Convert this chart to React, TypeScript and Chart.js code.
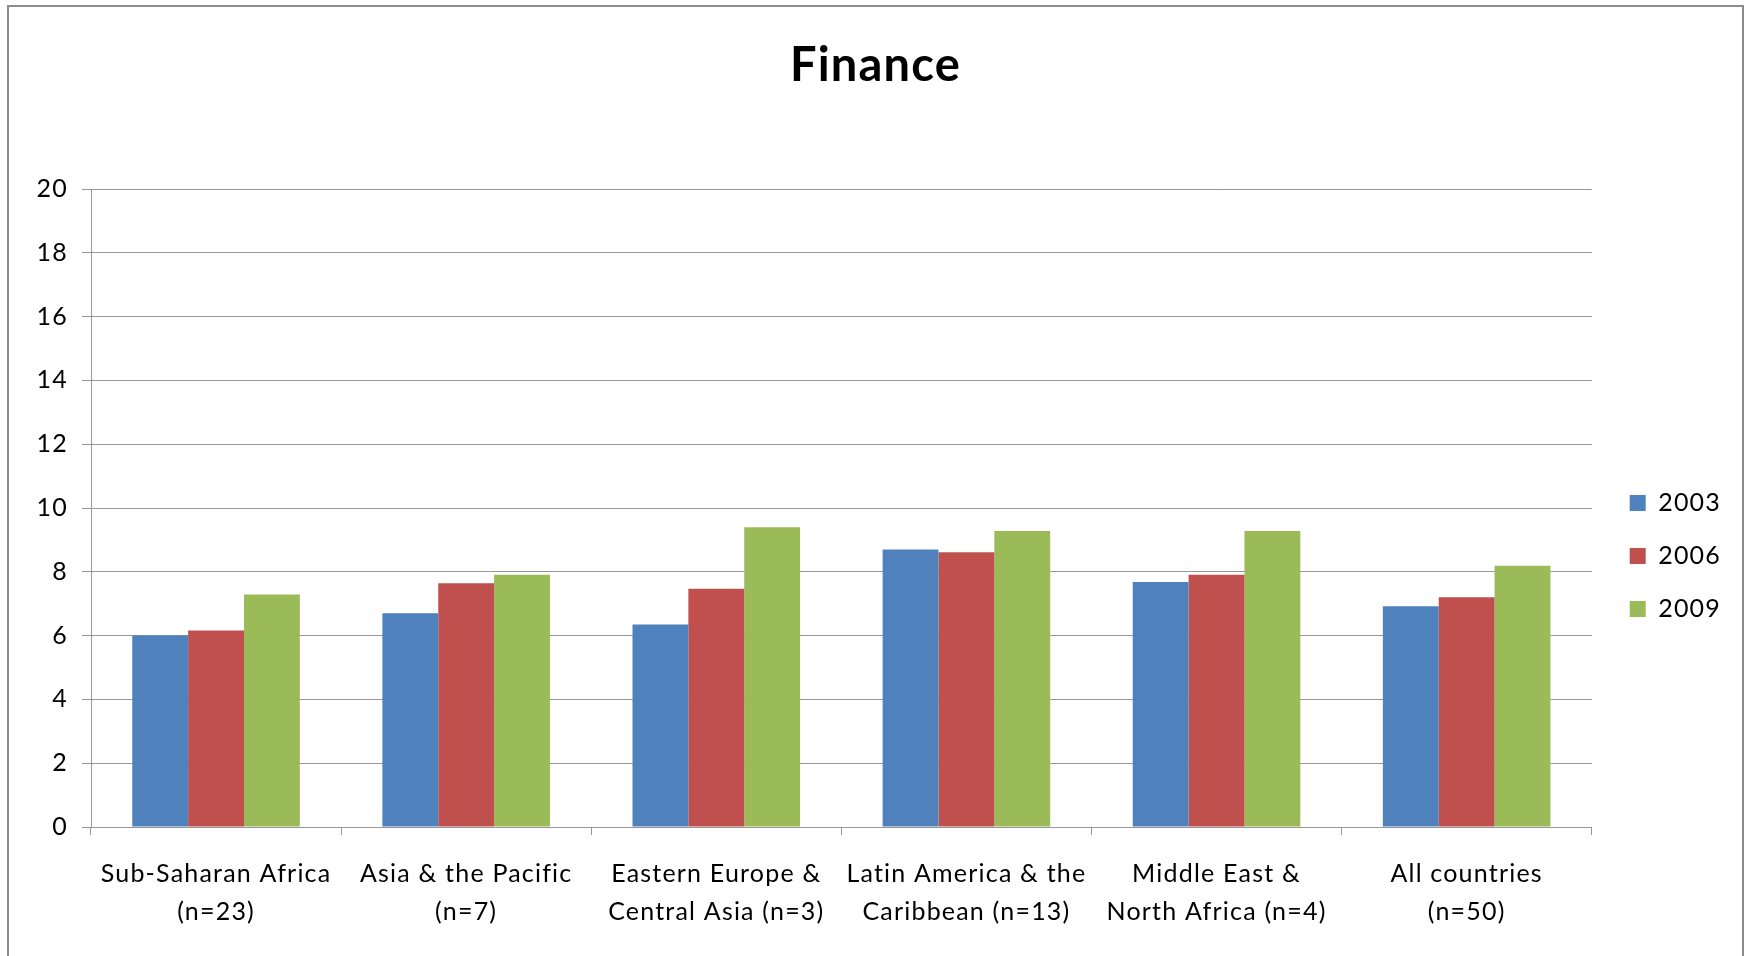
import React, { useEffect, useRef } from "react";
import { Chart, registerables } from "chart.js";

Chart.register(...registerables);

const categories: string[][] = [
  ["Sub-Saharan Africa", "(n=23)"],
  ["Asia & the Pacific", "(n=7)"],
  ["Eastern Europe &", "Central Asia (n=3)"],
  ["Latin America & the", "Caribbean (n=13)"],
  ["Middle East &", "North Africa (n=4)"],
  ["All countries", "(n=50)"],
];

const seriesNames = ["2003", "2006", "2009"];
const values2003 = [6.0, 6.7, 6.35, 8.7, 7.68, 6.92];
const values2006 = [6.16, 7.64, 7.47, 8.61, 7.91, 7.2];
const values2009 = [7.29, 7.91, 9.4, 9.28, 9.28, 8.19];
const seriesColors = ["#4F81BD", "#C0504D", "#9BBB59"];

const yMin = 0;
const yMax = 20;
const yStep = 2;

const W = 1744;
const H = 1112;
const FONT = "Lato, 'Open Sans', sans-serif";
const GRID = "#979797";

const letterSpacingPlugin = {
  id: "letterSpacingPlugin",
  beforeLayout(chart: any) {
    chart.ctx.letterSpacing = "1.2px";
  },
  beforeDraw(chart: any) {
    chart.ctx.letterSpacing = "1.2px";
  },
};

export default function App() {
  const ref = useRef<HTMLCanvasElement | null>(null);

  useEffect(() => {
    if (!ref.current) return;
    const all = [values2003, values2006, values2009];
    const chart = new Chart(ref.current, {
      type: "bar",
      data: {
        labels: categories,
        datasets: all.map((v, i) => ({
          label: seriesNames[i],
          data: v,
          backgroundColor: seriesColors[i],
          borderWidth: 0,
          categoryPercentage: 0.67,
          barPercentage: 1.0,
        })),
      },
      plugins: [letterSpacingPlugin],
      options: {
        responsive: false,
        animation: false,
        devicePixelRatio: 1,
        layout: { padding: { left: 20, right: 13, top: 0, bottom: 0 } },
        plugins: {
          title: {
            display: true,
            text: "Finance",
            color: "#000",
            font: { family: FONT, size: 47, weight: "bold", lineHeight: 1.2 },
            padding: { top: 38, bottom: 94.6 },
          },
          legend: {
            display: true,
            position: "right",
            align: "center",
            labels: {
              color: "#000",
              font: { family: FONT, size: 25 },
              boxWidth: 16,
              boxHeight: 16,
              padding: 28,
            },
          },
          tooltip: { enabled: false },
        },
        scales: {
          x: {
            grid: {
              display: true,
              offset: true,
              drawOnChartArea: false,
              drawTicks: true,
              tickLength: 8,
              color: GRID,
            },
            border: { display: true, color: GRID, width: 1 },
            ticks: {
              color: "#000",
              font: { family: FONT, size: 25, lineHeight: 1.52 },
              padding: 20,
              maxRotation: 0,
              minRotation: 0,
              autoSkip: false,
            },
            afterFit: (s: any) => {
              s.height = 285;
            },
          },
          y: {
            min: yMin,
            max: yMax,
            grid: {
              display: true,
              color: GRID,
              drawTicks: true,
              tickLength: 9,
            },
            border: { display: true, color: GRID, width: 1 },
            ticks: {
              stepSize: yStep,
              color: "#000",
              font: { family: FONT, size: 25 },
              padding: 14,
            },
            afterFit: (s: any) => {
              s.width = 71;
            },
          },
          yR: {
            type: "linear",
            position: "right",
            display: true,
            grid: { display: false, drawTicks: false },
            border: { display: false },
            ticks: { display: false },
            afterFit: (s: any) => {
              s.width = 10;
            },
          },
        },
      },
    } as any);
    return () => chart.destroy();
  }, []);

  return (
    <div
      style={{
        position: "fixed",
        left: 0,
        top: 0,
        width: W,
        height: 956,
        overflow: "hidden",
        background: "#fff",
      }}
    >
      <canvas
        ref={ref}
        width={W}
        height={H}
        style={{ position: "absolute", left: 0, top: 0, width: W, height: H, display: "block" }}
      />
      <div
        style={{
          position: "absolute",
          left: 7,
          top: 5,
          width: 1733,
          height: 1200,
          border: "2px solid #8c8c8c",
          pointerEvents: "none",
        }}
      />
    </div>
  );
}
